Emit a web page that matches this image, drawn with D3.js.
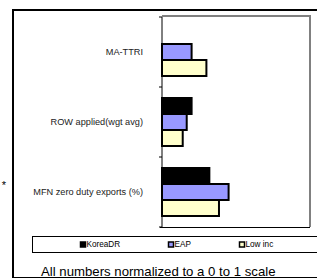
<!DOCTYPE html>
<html>
<head>
<meta charset="utf-8" />
<script src="https://d3js.org/d3.v7.min.js"></script>
<style>
body { margin: 0; background: #fff; font-family: "Liberation Sans", Arial, sans-serif; }
</style>
</head>
<body>
<div id="graphic"></div>
<script>
const categories = ["MA-TTRI", "ROW applied(wgt avg)", "MFN zero duty exports (%)"];
const seriesNames = ["KoreaDR", "EAP", "Low inc"];
const koreaDR = [null, 0.20, 0.32];
const eap = [0.20, 0.167, 0.45];
const lowInc = [0.30, 0.14, 0.385];
const seriesColors = ["#000000", "#9999ff", "#ffffcc"];
const footnote = "All numbers normalized to a 0 to 1 scale";

const values = [koreaDR, eap, lowInc];

const W = 317, H = 279;
const plot = { left: 162, right: 310, top: 17, bottom: 227 };

const svg = d3.select("#graphic").append("svg")
  .attr("width", W)
  .attr("height", H);

// outer frame: thick left/top, thin bottom
svg.append("path")
  .attr("d", "M13,278V10H330")
  .attr("fill", "none")
  .attr("stroke", "#000")
  .attr("stroke-width", 2);
svg.append("line")
  .attr("x1", 12).attr("x2", 330)
  .attr("y1", 277.5).attr("y2", 277.5)
  .attr("stroke", "#000");

const x = d3.scaleLinear().domain([0, 1]).range([plot.left, plot.right]);
const y = d3.scaleBand().domain(categories).range([plot.top, plot.bottom]);
const ySub = d3.scaleBand().domain(seriesNames).range([11, y.bandwidth() - 11]);

// plot frame: gray top and right
svg.append("path")
  .attr("d", `M${plot.left},${plot.top - 1}H${plot.right}V${plot.bottom}`)
  .attr("fill", "none")
  .attr("stroke", "#808080")
  .attr("stroke-width", 2);

// bars
seriesNames.forEach((s, si) => {
  svg.append("g")
    .selectAll("rect")
    .data(categories.map((c, ci) => ({ c: c, v: values[si][ci] })).filter(d => d.v != null))
    .join("rect")
    .attr("x", x(0))
    .attr("y", d => y(d.c) + ySub(s))
    .attr("width", d => x(d.v) - x(0))
    .attr("height", ySub.bandwidth())
    .attr("fill", seriesColors[si])
    .attr("stroke", "#000")
    .attr("stroke-width", 2);
});

// axes
svg.append("line")
  .attr("x1", plot.left).attr("x2", plot.left)
  .attr("y1", plot.top).attr("y2", plot.bottom)
  .attr("stroke", "#000");
svg.append("line")
  .attr("x1", plot.left - 2).attr("x2", plot.right)
  .attr("y1", plot.bottom + 0.5).attr("y2", plot.bottom + 0.5)
  .attr("stroke", "#000");

const tickPos = categories.map(c => y(c)).concat([plot.bottom]);
svg.append("g").selectAll("line")
  .data(tickPos)
  .join("line")
  .attr("x1", plot.left - 3).attr("x2", plot.left)
  .attr("y1", d => d).attr("y2", d => d)
  .attr("stroke", "#000");

// category labels
svg.append("g").selectAll("text")
  .data(categories)
  .join("text")
  .attr("x", 143)
  .attr("y", d => y(d) + y.bandwidth() / 2)
  .attr("dy", "0.35em")
  .attr("text-anchor", "end")
  .attr("font-size", 9.2)
  .attr("fill", "#222")
  .text(d => d);

svg.append("text")
  .attr("x", 4).attr("y", 189)
  .attr("text-anchor", "middle")
  .attr("font-size", 11)
  .text("*");

// legend
svg.append("rect")
  .attr("x", 32.5).attr("y", 236.5)
  .attr("width", 300).attr("height", 16)
  .attr("fill", "#fff")
  .attr("stroke", "#000");

const legendX = [80, 168, 239];
const lg = svg.append("g").selectAll("g")
  .data(seriesNames)
  .join("g")
  .attr("transform", (d, i) => `translate(${legendX[i]},244.5)`);
lg.append("rect")
  .attr("x", 0.5).attr("y", -2.5)
  .attr("width", 5).attr("height", 5)
  .attr("fill", (d, i) => seriesColors[i])
  .attr("stroke", "#000")
  .attr("stroke-width", 1.5);
lg.append("text")
  .attr("x", 6.5)
  .attr("dy", "0.35em")
  .attr("font-size", 8.2)
  .text(d => d);

svg.append("text")
  .attr("x", 41).attr("y", 275.5)
  .attr("font-size", 13.2)
  .text(footnote);
</script>
</body>
</html>
